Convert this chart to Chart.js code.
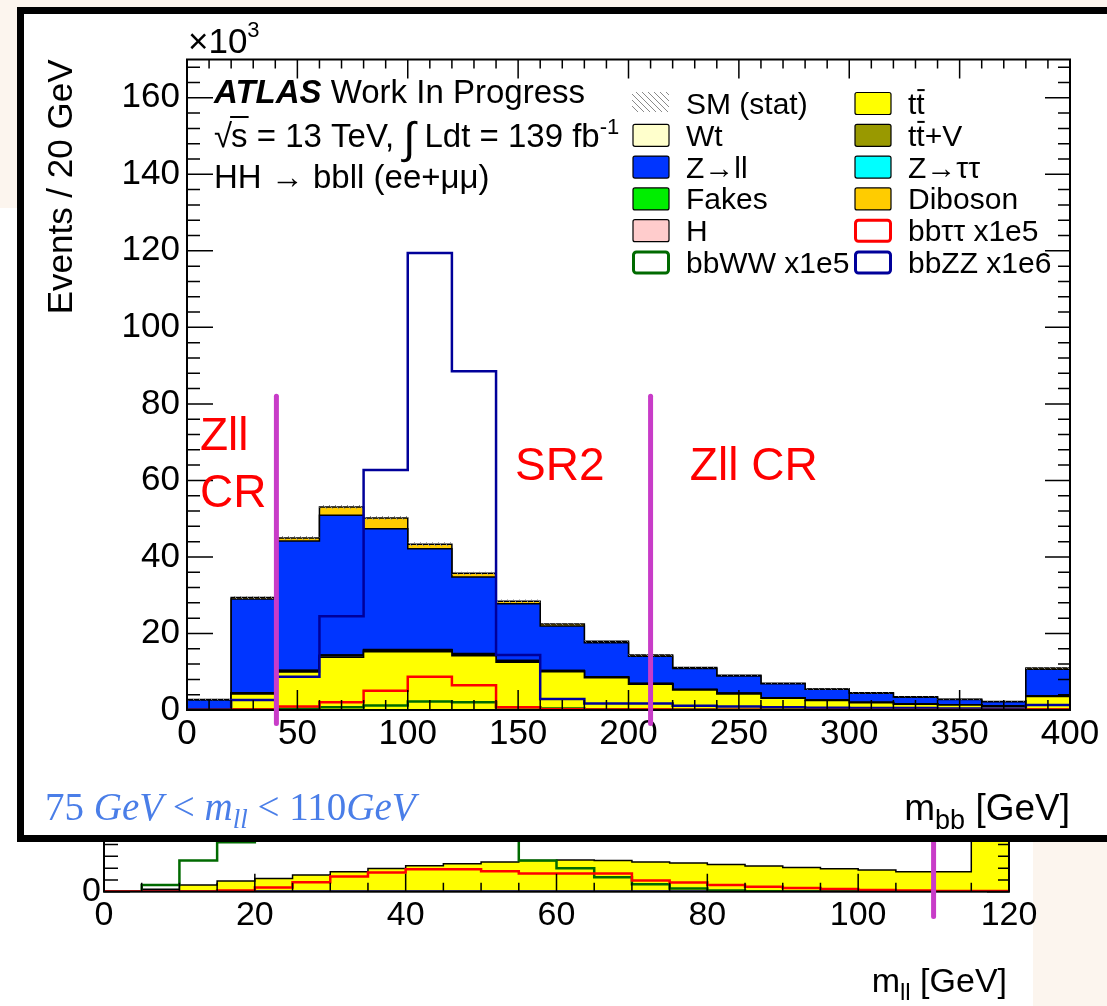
<!DOCTYPE html>
<html>
<head>
<meta charset="utf-8">
<title>HH → bbll, m_bb</title>
<script src="https://cdn.jsdelivr.net/npm/chart.js@4.4.1/dist/chart.umd.min.js"></script>
<style>
html, body { margin: 0; padding: 0; overflow: hidden; }
body { position: relative; width: 1107px; height: 1006px; background: #ffffff; }
.peach { position: absolute; background: #fcf5ee; }
#lowerChart { position: absolute; left: 0; top: 800px; }
#box { position: absolute; left: 17px; top: 7px; width: 1100px; height: 821px; border: 7px solid #000; background: #fff; overflow: hidden; }
#mainChart { position: absolute; left: 0; top: 0; }
</style>
</head>
<body>
<div class="peach" style="left:0;top:0;width:1107px;height:8px"></div>
<div class="peach" style="left:0;top:0;width:17px;height:208px"></div>
<div class="peach" style="left:1033px;top:842px;width:74px;height:164px"></div>
<canvas id="lowerChart" width="1107" height="206"></canvas>
<div id="box"><canvas id="mainChart" width="1083" height="821"></canvas></div>

<script>
const sans = '"Liberation Sans", Arial, sans-serif';
const serif = '"Liberation Serif", "Times New Roman", serif';

/* m_bb, x10^3 events / 20 GeV */
const mbbEdges = [0, 20, 40, 60, 80, 100, 120, 140, 160, 180, 200, 220, 240, 260, 280, 300, 320, 340, 360, 380, 400];
const mbbTicks = [0, 50, 100, 150, 200, 250, 300, 350, 400];
const eventTicks = [0, 20, 40, 60, 80, 100, 120, 140, 160];

// backgrounds, stacked bottom to top
const ttbar   = [0.1, 4.2, 9.9, 13.8, 15.2, 15.2, 14.2, 12.5, 10.0, 8.4, 6.7, 5.2, 4.2, 3.1, 2.5, 1.9, 1.5, 1.3, 1.0, 3.5];
const wt      = [0.02, 0.15, 0.25, 0.3, 0.3, 0.3, 0.3, 0.25, 0.2, 0.15, 0.15, 0.1, 0.1, 0.08, 0.06, 0.05, 0.04, 0.04, 0.03, 0.08];
const ttv     = [0, 0.03, 0.05, 0.06, 0.07, 0.07, 0.06, 0.05, 0.04, 0.03, 0.03, 0.02, 0.02, 0.01, 0.01, 0.01, 0.01, 0.01, 0, 0.02];
const fakes   = [0.01, 0.05, 0.08, 0.1, 0.1, 0.1, 0.08, 0.07, 0.05, 0.04, 0.03, 0.03, 0.02, 0.02, 0.01, 0.01, 0.01, 0.01, 0.01, 0.03];
const higgs   = [0, 0.02, 0.04, 0.05, 0.08, 0.1, 0.08, 0.05, 0.03, 0.02, 0.02, 0.01, 0.01, 0.01, 0.01, 0, 0, 0, 0, 0.01];
const ztautau = [0.01, 0.05, 0.06, 0.06, 0.05, 0.05, 0.04, 0.03, 0.03, 0.02, 0.02, 0.01, 0.01, 0.01, 0.01, 0.01, 0, 0, 0, 0.01];
const zll     = [2.5, 24.5, 33.8, 36.5, 31.6, 26.3, 20.0, 14.8, 11.6, 8.9, 7.1, 5.5, 4.5, 3.6, 2.8, 2.4, 1.8, 1.4, 1.1, 7.0];
const diboson = [0.1, 0.4, 0.8, 2.2, 2.8, 1.2, 1.0, 0.7, 0.5, 0.4, 0.3, 0.25, 0.2, 0.15, 0.1, 0.1, 0.1, 0.05, 0.05, 0.3];
const smStat  = [0.2, 0.4, 0.5, 0.5, 0.5, 0.5, 0.4, 0.4, 0.3, 0.3, 0.3, 0.2, 0.2, 0.2, 0.2, 0.15, 0.15, 0.1, 0.1, 0.3];

// signals (scaled)
const bbtautau = [0, 0.1, 0.9, 2.0, 5.0, 8.7, 6.5, 0.7, 0.2, 0.1, 0.1, 0.05, 0.05, 0, 0, 0, 0, 0, 0, 0.1];
const bbww     = [0, 0.2, 0.3, 0.7, 1.2, 2.2, 2.0, 0.7, 0.4, 0.2, 0.1, 0.1, 0.05, 0.05, 0, 0, 0, 0, 0, 0.1];
const bbzz     = [0.2, 2.6, 8.7, 24.5, 62.7, 119.4, 88.5, 14.4, 2.9, 1.7, 1.7, 1.1, 0.9, 0.7, 0.6, 0.5, 0.5, 0.4, 0.4, 1.3];

// region boundaries
const mbbCuts = [40.5, 210];
const mbbCutSpan = [-3.5, 82];

/* m_ll, 5 GeV bins */
const mllEdges = [0, 5, 10, 15, 20, 25, 30, 35, 40, 45, 50, 55, 60, 65, 70, 75, 80, 85, 90, 95, 100, 105, 110, 115, 120];
const mllTicks = [0, 20, 40, 60, 80, 100, 120];
const mllYTicks = [0, 5];
const mllBkg      = [0, 0.2, 0.57, 0.91, 1.12, 1.42, 1.69, 1.96, 2.2, 2.37, 2.53, 2.64, 2.7, 2.64, 2.53, 2.43, 2.32, 2.18, 2.05, 1.94, 1.84, 1.69, 1.69, 6.0];
const mllBbtautau = [0.02, 0.02, 0.02, 0.1, 0.36, 0.8, 1.29, 1.63, 1.9, 1.9, 1.73, 1.54, 1.54, 1.54, 0.95, 0.78, 0.57, 0.43, 0.32, 0.22, 0.15, 0.1, 0.05, 0.05];
const mllBbww     = [0, 0.57, 2.64, 4.2, 5.5, 6.3, 6.8, 7.0, 6.6, 5.8, 4.6, 2.64, 2.0, 1.23, 0.63, 0.27, 0.1, 0.03, 0.02, 0.02, 0.02, 0.02, 0.02, 0.02];
const mllBbzz     = [0.02, 0.02, 0.02, 0.02, 0.02, 0.02, 0.02, 0.02, 0.02, 0.02, 0.02, 0.02, 0.02, 0.02, 0.02, 0.02, 0.02, 0.02, 0.02, 0.02, 0.02, 0.02, 0.02, 0.02];
const mllCut = 110;
const mllCutSpan = [-2.1, 5.8];

const regionNotes = [
    { text: 'Zll', x: 5.9, y: 67.9 },
    { text: 'CR', x: 5.9, y: 53.0 },
    { text: 'SR2', x: 148.6, y: 60.1 },
    { text: 'Zll CR', x: 227.8, y: 60.1 }
];

const legendRows = [
    ['SM (stat)', 'tt\u0304'],
    ['Wt', 'tt\u0304+V'],
    ['Z\u2192ll', 'Z\u2192\u03c4\u03c4'],
    ['Fakes', 'Diboson'],
    ['H', 'bb\u03c4\u03c4 x1e5'],
    ['bbWW x1e5', 'bbZZ x1e6']
];

// histogram as step points: one point per bin edge
function hist(edges, vals) {
    return edges.map(function (e, i) {
        return { x: e, y: vals[Math.min(i, vals.length - 1)] };
    });
}

function hatchPattern() {
    var c = document.createElement('canvas');
    c.width = 6; c.height = 6;
    var g = c.getContext('2d');
    g.strokeStyle = '#8a8a8a';
    g.lineWidth = 1;
    g.beginPath();
    g.moveTo(0, 0); g.lineTo(6, 6);
    g.moveTo(-1, 5); g.lineTo(1, 7);
    g.moveTo(5, -1); g.lineTo(7, 1);
    g.stroke();
    return g.createPattern(c, 'repeat');
}
const hatch = hatchPattern();

function isMultiple(v, step) {
    return Math.abs(v / step - Math.round(v / step)) < 1e-6;
}

// ROOT-like frame: box plus inward ticks on all four sides
function drawFrame(chart, t) {
    var ctx = chart.ctx, a = chart.chartArea, xs = chart.scales.x, ys = chart.scales.y;
    ctx.save();
    ctx.strokeStyle = '#000';
    ctx.lineWidth = 1.5;
    ctx.beginPath();
    for (var k = 0; xs.min + k * t.xMinor <= xs.max + 1e-6; k++) {
        var v = xs.min + k * t.xMinor;
        var px = xs.getPixelForValue(v);
        var big = isMultiple(v, t.xMajor);
        ctx.moveTo(px, a.bottom); ctx.lineTo(px, a.bottom - (big ? t.bottom[0] : t.bottom[1]));
        ctx.moveTo(px, a.top); ctx.lineTo(px, a.top + (big ? t.top[0] : t.top[1]));
    }
    for (var j = 0; ys.min + j * t.yMinor <= ys.max + 1e-6; j++) {
        var w = ys.min + j * t.yMinor;
        var py = ys.getPixelForValue(w);
        var bigY = isMultiple(w, t.yMajor);
        ctx.moveTo(a.left, py); ctx.lineTo(a.left + (bigY ? t.left[0] : t.left[1]), py);
        ctx.moveTo(a.right, py); ctx.lineTo(a.right - (bigY ? t.right[0] : t.right[1]), py);
    }
    ctx.stroke();
    ctx.lineWidth = 2;
    ctx.strokeRect(a.left, a.top, a.right - a.left, a.bottom - a.top);
    ctx.restore();
}

// frame goes under the region markers but over the histograms
function framePlugin(id, ticks) {
    return {
        id: id,
        beforeDatasetsDraw: function (chart) { chart.$frameDone = false; },
        beforeDatasetDraw: function (chart, args) {
            var ds = chart.data.datasets[args.index];
            if (ds.marker && !chart.$frameDone) {
                drawFrame(chart, ticks);
                chart.$frameDone = true;
            }
        },
        afterDatasetsDraw: function (chart) {
            if (!chart.$frameDone) drawFrame(chart, ticks);
        }
    };
}

// text with a bar over any character followed by U+0304
function barText(ctx, s, x, y, size) {
    var cx = x;
    for (var i = 0; i < s.length; i++) {
        var ch = s[i];
        if (ch === '\u0304') continue;
        ctx.fillText(ch, cx, y);
        var w = ctx.measureText(ch).width;
        if (s[i + 1] === '\u0304') ctx.fillRect(cx + 1, y - size * 0.83, w - 1, 2);
        cx += w;
    }
}

function roundBox(ctx, x, y, w, h, r) {
    ctx.beginPath();
    if (ctx.roundRect) ctx.roundRect(x, y, w, h, r); else ctx.rect(x, y, w, h);
}

/* ---------- main m_bb chart ---------- */
const stackDefs = [
    { label: 'tt\u0304', data: ttbar, color: '#ffff00' },
    { label: 'Wt', data: wt, color: '#ffffcc' },
    { label: 'tt\u0304+V', data: ttv, color: '#999900' },
    { label: 'Fakes', data: fakes, color: '#00ee00' },
    { label: 'H', data: higgs, color: '#ffcccc' },
    { label: 'Z\u2192\u03c4\u03c4', data: ztautau, color: '#00ffff' },
    { label: 'Z\u2192ll', data: zll, color: '#0035ff' },
    { label: 'Diboson', data: diboson, color: '#ffcc00' }
];

var smTotal = ttbar.map(function (v, i) {
    var sum = 0;
    stackDefs.forEach(function (d) { sum += d.data[i]; });
    return sum;
});

var mainSets = stackDefs.map(function (d, k) {
    return {
        label: d.label,
        data: hist(mbbEdges, d.data),
        backgroundColor: d.color,
        borderColor: '#000',
        borderWidth: 1.5,
        fill: k === 0 ? 'origin' : '-1',
        stepped: true,
        pointRadius: 0,
        order: 5
    };
});

mainSets.push({
    label: 'statLo',
    data: hist(mbbEdges, smTotal.map(function (t, i) { return t - smStat[i]; })),
    stack: 'statLo', borderWidth: 0, fill: false, stepped: true, pointRadius: 0, order: 4
});
mainSets.push({
    label: 'SM (stat)',
    data: hist(mbbEdges, smTotal.map(function (t, i) { return t + smStat[i]; })),
    stack: 'statHi', borderWidth: 0, backgroundColor: hatch, fill: '-1', hatched: true,
    stepped: true, pointRadius: 0, order: 4
});

[
    { label: 'bb\u03c4\u03c4 x1e5', data: bbtautau, color: '#ff0000' },
    { label: 'bbWW x1e5', data: bbww, color: '#006a00' },
    { label: 'bbZZ x1e6', data: bbzz, color: '#00009a' }
].forEach(function (s) {
    mainSets.push({
        label: s.label,
        data: hist(mbbEdges, s.data),
        borderColor: s.color,
        backgroundColor: '#fff',
        borderWidth: 2.5,
        fill: false,
        stepped: true,
        pointRadius: 0,
        stack: 'sig ' + s.label,
        order: 2
    });
});

mbbCuts.forEach(function (c) {
    mainSets.push({
        label: 'cut ' + c,
        data: mbbCutSpan.map(function (v) { return { x: c, y: v }; }),
        borderColor: '#c83cc8',
        borderWidth: 5,
        borderCapStyle: 'round',
        fill: false,
        pointRadius: 0,
        stack: 'cut ' + c,
        clip: false,
        marker: true,
        order: 0
    });
});

const mainText = {
    id: 'mainText',
    afterDatasetsDraw: function (chart) {
        var ctx = chart.ctx, xs = chart.scales.x, ys = chart.scales.y;
        ctx.save();
        ctx.fillStyle = '#ff0000';
        ctx.font = '46px ' + sans;
        ctx.textBaseline = 'alphabetic';
        regionNotes.forEach(function (n) {
            ctx.fillText(n.text, xs.getPixelForValue(n.x), ys.getPixelForValue(n.y));
        });
        ctx.restore();
    },
    afterDraw: function (chart) {
        var ctx = chart.ctx;
        ctx.save();
        ctx.fillStyle = '#000';
        ctx.textAlign = 'left';
        ctx.textBaseline = 'alphabetic';

        // exponent above the axis
        ctx.font = '35px ' + sans;
        ctx.fillText('\u00d710', 164, 39);
        var ex = 164 + ctx.measureText('\u00d710').width;
        ctx.font = '22px ' + sans;
        ctx.fillText('3', ex, 23);

        // ATLAS label
        var x = 190;
        ctx.font = 'italic bold 33px ' + sans;
        ctx.fillText('ATLAS', x, 89);
        x += ctx.measureText('ATLAS').width;
        ctx.font = '33px ' + sans;
        ctx.fillText(' Work In Progress', x, 89);

        x = 190;
        ctx.fillText('\u221a', x, 133);
        x += ctx.measureText('\u221a').width - 1;
        var sw = ctx.measureText('s').width;
        ctx.fillText('s', x, 133);
        ctx.fillRect(x - 1, 133 - 31, sw + 2, 2);
        x += sw;
        ctx.fillText(' = 13 TeV, ', x, 133);
        x += ctx.measureText(' = 13 TeV, ').width;
        ctx.font = '44px ' + sans;
        ctx.fillText('\u222b', x, 139);
        x += ctx.measureText('\u222b').width;
        ctx.font = '33px ' + sans;
        ctx.fillText(' Ldt = 139 fb', x, 133);
        x += ctx.measureText(' Ldt = 139 fb').width;
        ctx.font = '22px ' + sans;
        ctx.fillText('-1', x, 120);

        ctx.font = '33px ' + sans;
        ctx.fillText('HH \u2192 bbll (ee+\u03bc\u03bc)', 190, 174);

        // legend, two columns
        var cols = [608, 830];
        ctx.font = '30px ' + sans;
        legendRows.forEach(function (row, r) {
            row.forEach(function (label, c) {
                var ds = chart.data.datasets.find(function (d) { return d.label === label; });
                var bx = cols[c], cy = 89 + r * 31.8;
                if (ds.hatched) {
                    ctx.fillStyle = ds.backgroundColor;
                    ctx.fillRect(bx, cy - 11, 37, 20);
                } else if (ds.fill === false) {
                    ctx.fillStyle = '#fff';
                    roundBox(ctx, bx + 1.5, cy - 10, 35, 21, 3);
                    ctx.fill();
                    ctx.strokeStyle = ds.borderColor;
                    ctx.lineWidth = 3;
                    ctx.stroke();
                } else {
                    ctx.fillStyle = ds.backgroundColor;
                    roundBox(ctx, bx + 1, cy - 10.5, 36, 22, 2);
                    ctx.fill();
                    ctx.strokeStyle = '#000';
                    ctx.lineWidth = 1.2;
                    ctx.stroke();
                }
                ctx.fillStyle = '#000';
                barText(ctx, label, bx + 54, cy + 11, 30);
            });
        });

        // x axis title with subscript
        ctx.font = '37px ' + sans;
        var wm = ctx.measureText('m').width;
        var wg = ctx.measureText(' [GeV]').width;
        ctx.font = '27px ' + sans;
        var wb = ctx.measureText('bb').width;
        var tx = 1046 - wm - wb - wg;
        ctx.font = '37px ' + sans;
        ctx.fillText('m', tx, 806);
        ctx.font = '27px ' + sans;
        ctx.fillText('bb', tx + wm, 815);
        ctx.font = '37px ' + sans;
        ctx.fillText(' [GeV]', tx + wm + wb, 806);

        // selection note
        ctx.fillStyle = '#4a7ee8';
        var nx = 21;
        [
            ['75 ', '39px '],
            ['GeV', 'italic 39px '],
            [' < ', '39px '],
            ['m', 'italic 39px ']
        ].forEach(function (p) {
            ctx.font = p[1] + serif;
            ctx.fillText(p[0], nx, 806);
            nx += ctx.measureText(p[0]).width;
        });
        ctx.font = 'italic 27px ' + serif;
        ctx.fillText('ll', nx, 814);
        nx += ctx.measureText('ll').width;
        [
            [' < 110', '39px '],
            ['GeV', 'italic 39px ']
        ].forEach(function (p) {
            ctx.font = p[1] + serif;
            ctx.fillText(p[0], nx, 806);
            nx += ctx.measureText(p[0]).width;
        });
        ctx.restore();
    }
};

const mainchart = document.getElementById('mainChart');

new Chart(mainchart, {
    type: 'line',
    data: { datasets: mainSets },
    options: {
        responsive: false,
        animation: false,
        events: [],
        layout: { padding: { left: 0, right: 37, top: 45.5, bottom: 0 } },
        plugins: { legend: { display: false }, tooltip: { enabled: false } },
        scales: {
            x: {
                type: 'linear', min: 0, max: 400,
                afterBuildTicks: function (s) { s.ticks = mbbTicks.map(function (v) { return { value: v }; }); },
                afterFit: function (s) { s.height = 125; },
                grid: { display: false, drawTicks: false },
                border: { display: false },
                ticks: { padding: 3, color: '#000', maxRotation: 0, autoSkip: false, font: { family: sans, size: 35 } }
            },
            y: {
                type: 'linear', min: 0, max: 170, stacked: true,
                afterBuildTicks: function (s) { s.ticks = eventTicks.map(function (v) { return { value: v }; }); },
                afterFit: function (s) { s.width = 163; },
                grid: { display: false, drawTicks: false },
                border: { display: false },
                ticks: { padding: 7, color: '#000', autoSkip: false, font: { family: sans, size: 35 } },
                title: {
                    display: true, text: 'Events / 20 GeV', align: 'end', color: '#000',
                    font: { family: sans, size: 35 }, padding: { top: 17, bottom: 0 }
                }
            }
        }
    },
    plugins: [
        framePlugin('mbbFrame', { xMinor: 10, xMajor: 50, yMinor: 4, yMajor: 20, bottom: [20, 10], top: [19, 9], left: [26, 13], right: [25, 12] }),
        mainText
    ]
});

/* ---------- m_ll chart underneath ---------- */
var lowerSets = [
    {
        label: 'tt\u0304', data: hist(mllEdges, mllBkg), backgroundColor: '#ffff00', borderColor: '#000',
        borderWidth: 1.5, fill: 'origin', stepped: true, pointRadius: 0, order: 5
    }
];
[
    { label: 'bb\u03c4\u03c4 x1e5', data: mllBbtautau, color: '#ff0000' },
    { label: 'bbWW x1e5', data: mllBbww, color: '#006a00' },
    { label: 'bbZZ x1e6', data: mllBbzz, color: '#00009a' }
].forEach(function (s) {
    lowerSets.push({
        label: s.label, data: hist(mllEdges, s.data), borderColor: s.color, borderWidth: 2.5,
        fill: false, stepped: true, pointRadius: 0, order: 2
    });
});
lowerSets.push({
    label: 'cut ' + mllCut,
    data: mllCutSpan.map(function (v) { return { x: mllCut, y: v }; }),
    borderColor: '#c83cc8', borderWidth: 5, borderCapStyle: 'round',
    fill: false, pointRadius: 0, clip: false, marker: true, order: 0
});

const lowerText = {
    id: 'lowerText',
    afterDraw: function (chart) {
        var ctx = chart.ctx;
        ctx.save();
        ctx.fillStyle = '#000';
        ctx.textBaseline = 'alphabetic';
        ctx.font = '34px ' + sans;
        var wm = ctx.measureText('m').width;
        var wg = ctx.measureText(' [GeV]').width;
        ctx.font = '24px ' + sans;
        var wl = ctx.measureText('ll').width;
        var tx = 1007 - wm - wl - wg;
        ctx.font = '34px ' + sans;
        ctx.fillText('m', tx, 192);
        ctx.font = '24px ' + sans;
        ctx.fillText('ll', tx + wm, 200);
        ctx.font = '34px ' + sans;
        ctx.fillText(' [GeV]', tx + wm + wl, 192);
        ctx.restore();
    }
};

const lowerchart = document.getElementById('lowerChart');

new Chart(lowerchart, {
    type: 'line',
    data: { datasets: lowerSets },
    options: {
        responsive: false,
        animation: false,
        events: [],
        layout: { padding: { left: 0, right: 98, top: 0, bottom: 0 } },
        plugins: { legend: { display: false }, tooltip: { enabled: false } },
        scales: {
            x: {
                type: 'linear', min: 0, max: 120,
                afterBuildTicks: function (s) { s.ticks = mllTicks.map(function (v) { return { value: v }; }); },
                afterFit: function (s) { s.height = 114.3; },
                grid: { display: false, drawTicks: false },
                border: { display: false },
                ticks: { padding: 3.5, color: '#000', maxRotation: 0, autoSkip: false, font: { family: sans, size: 34 } }
            },
            y: {
                type: 'linear', min: 0, max: 5.8,
                afterBuildTicks: function (s) { s.ticks = mllYTicks.map(function (v) { return { value: v }; }); },
                afterFit: function (s) { s.width = 104; },
                grid: { display: false, drawTicks: false },
                border: { display: false },
                ticks: { padding: 3, color: '#000', autoSkip: false, font: { family: sans, size: 34 } }
            }
        }
    },
    plugins: [
        framePlugin('mllFrame', { xMinor: 5, xMajor: 20, yMinor: 1, yMajor: 5, bottom: [18, 9], top: [18, 9], left: [26, 14], right: [22, 11] }),
        lowerText
    ]
});
</script>
</body>
</html>
